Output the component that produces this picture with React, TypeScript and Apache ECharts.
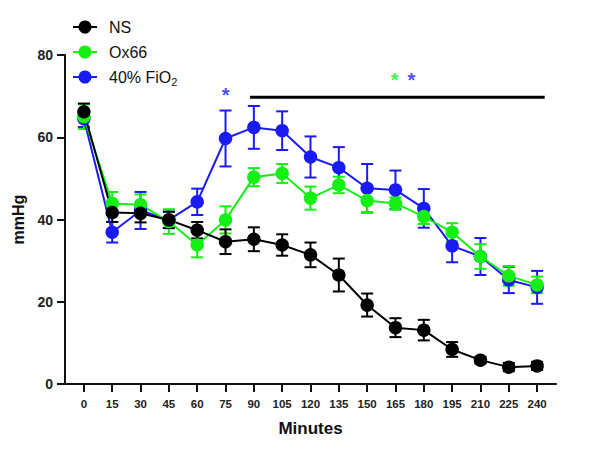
import React, { useEffect, useRef } from "react";
import * as echarts from "echarts";

const times = [0, 15, 30, 45, 60, 75, 90, 105, 120, 135, 150, 165, 180, 195, 210, 225, 240];
const yTicks = [0, 20, 40, 60, 80];

const nsMean = [66.2, 41.7, 41.5, 39.9, 37.4, 34.6, 35.2, 33.8, 31.4, 26.5, 19.2, 13.7, 13.1, 8.4, 5.8, 4.1, 4.4];
const nsSem = [2.0, 2.3, 2.2, 2.0, 2.0, 3.0, 2.9, 2.6, 3.0, 4.0, 2.8, 2.3, 2.5, 1.8, 0.8, 1.0, 1.0];

const oxMean = [65.0, 43.9, 43.6, 39.5, 33.8, 39.9, 50.3, 51.2, 45.2, 48.4, 44.6, 43.9, 40.7, 36.9, 31.0, 26.3, 24.1];
const oxSem = [3.0, 2.8, 2.5, 3.0, 3.0, 3.3, 2.2, 2.3, 2.8, 2.0, 3.0, 1.5, 1.8, 2.2, 3.0, 2.4, 2.0];

const fioMean = [64.5, 36.9, 42.2, 39.9, 44.3, 59.7, 62.4, 61.6, 55.2, 52.6, 47.6, 47.2, 42.7, 33.6, 31.0, 25.3, 23.5];
const fioSem = [2.0, 2.5, 4.5, 2.0, 3.2, 6.8, 5.2, 4.7, 5.0, 5.0, 5.9, 4.7, 4.7, 4.0, 4.5, 3.2, 4.0];

const seriesNames = ["NS", "Ox66", "40% FiO2"];
const colors = ["#000000", "#14f014", "#1a1af5"];

const sigBarX = [88, 244];
const sigBarY = 69.7;
const stars = [
  { x: 75, y: 70.3, color: "#1a1af5" },
  { x: 164.6, y: 73.9, color: "#14f014" },
  { x: 173.4, y: 73.9, color: "#1a1af5" },
];

const FONT = "'Liberation Sans', Arial, Helvetica, sans-serif";

function errSeries(name: string, means: number[], sems: number[], color: string) {
  return {
    type: "custom",
    name: name + "_err",
    silent: true,
    data: times.map((t, i) => [t, means[i] - sems[i], means[i] + sems[i]]),
    renderItem: (params: any, api: any) => {
      const lo = api.coord([api.value(0), api.value(1)]);
      const hi = api.coord([api.value(0), api.value(2)]);
      const hw = 6;
      const style = { stroke: color, lineWidth: 2, fill: "none" };
      return {
        type: "group",
        children: [
          { type: "line", shape: { x1: lo[0], y1: lo[1], x2: hi[0], y2: hi[1] }, style },
          { type: "line", shape: { x1: lo[0] - hw, y1: lo[1], x2: lo[0] + hw, y2: lo[1] }, style },
          { type: "line", shape: { x1: hi[0] - hw, y1: hi[1], x2: hi[0] + hw, y2: hi[1] }, style },
        ],
      };
    },
  };
}

function lineSeries(name: string, means: number[], color: string) {
  return {
    type: "line",
    name,
    data: times.map((t, i) => [t, means[i]]),
    symbol: "circle",
    symbolSize: 13.5,
    lineStyle: { color, width: 2 },
    itemStyle: { color },
  };
}

export default function App() {
  const ref = useRef<HTMLDivElement>(null);
  useEffect(() => {
    if (!ref.current) return;
    const chart = echarts.init(ref.current, null, { renderer: "svg" });
    const legendRows = seriesNames.map((n, i) => {
      const cy = 27 + i * 25;
      const text = n === "40% FiO2" ? "40% FiO{sub|2}" : n;
      return [
        { type: "line", shape: { x1: 73, y1: cy, x2: 97, y2: cy }, style: { stroke: colors[i], lineWidth: 2 } },
        { type: "circle", shape: { cx: 85, cy, r: 6.5 }, style: { fill: colors[i] } },
        {
          type: "text",
          x: 109,
          y: cy,
          style: {
            text,
            fill: "#111",
            font: `16px ${FONT}`,
            verticalAlign: "middle",
            rich: {
              sub: { fontSize: 11, fontFamily: FONT, fill: "#111", padding: [10, 0, 0, 0] },
            },
          },
        },
      ];
    }).flat();

    chart.setOption({
      animation: false,
      backgroundColor: "#fff",
      grid: { left: 65, right: 44, top: 55, bottom: 68 },
      xAxis: {
        type: "value",
        min: -10,
        max: 250,
        name: "Minutes",
        nameLocation: "middle",
        nameGap: 36,
        nameTextStyle: { fontFamily: FONT, fontWeight: "bold", fontSize: 17, color: "#111" },
        axisLine: { show: true, onZero: false, lineStyle: { color: "#111", width: 2 } },
        axisTick: { show: true, length: 8, lineStyle: { color: "#111", width: 2 }, customValues: times },
        axisLabel: { customValues: times, fontFamily: FONT, fontWeight: "bold", fontSize: 11.5, color: "#222", margin: 14 },
        splitLine: { show: false },
      },
      yAxis: {
        type: "value",
        min: 0,
        max: 80,
        interval: 20,
        name: "mmHg",
        nameLocation: "middle",
        nameRotate: 90,
        nameGap: 39,
        nameTextStyle: { fontFamily: FONT, fontWeight: "bold", fontSize: 16, color: "#111" },
        axisLine: { show: true, onZero: false, lineStyle: { color: "#111", width: 2 } },
        axisTick: { show: true, length: 8, lineStyle: { color: "#111", width: 2 } },
        axisLabel: { fontFamily: FONT, fontWeight: "bold", fontSize: 14, color: "#222", margin: 12, formatter: (v: number) => (yTicks.includes(v) ? String(v) : "") },
        splitLine: { show: false },
      },
      graphic: legendRows,
      series: [
        errSeries(seriesNames[2], fioMean, fioSem, colors[2]),
        lineSeries(seriesNames[2], fioMean, colors[2]),
        errSeries(seriesNames[1], oxMean, oxSem, colors[1]),
        lineSeries(seriesNames[1], oxMean, colors[1]),
        errSeries(seriesNames[0], nsMean, nsSem, colors[0]),
        lineSeries(seriesNames[0], nsMean, colors[0]),
        {
          type: "line",
          name: "sig",
          silent: true,
          data: sigBarX.map((x) => [x, sigBarY]),
          symbol: "none",
          lineStyle: { color: "#000", width: 3 },
        },
        {
          type: "scatter",
          name: "stars",
          silent: true,
          symbolSize: 2,
          itemStyle: { color: "rgba(0,0,0,0)" },
          labelLayout: { hideOverlap: false },
          data: stars.map((s) => ({
            value: [s.x, s.y],
            label: {
              show: true,
              position: "inside",
              formatter: "*",
              color: s.color,
              fontSize: 20,
              fontWeight: "bold",
              fontFamily: FONT,
              offset: [0, 5],
            },
          })),
        },
      ],
    });
    return () => chart.dispose();
  }, []);
  return <div ref={ref} style={{ width: 600, height: 452, position: "fixed", left: 0, top: 0 }} />;
}
